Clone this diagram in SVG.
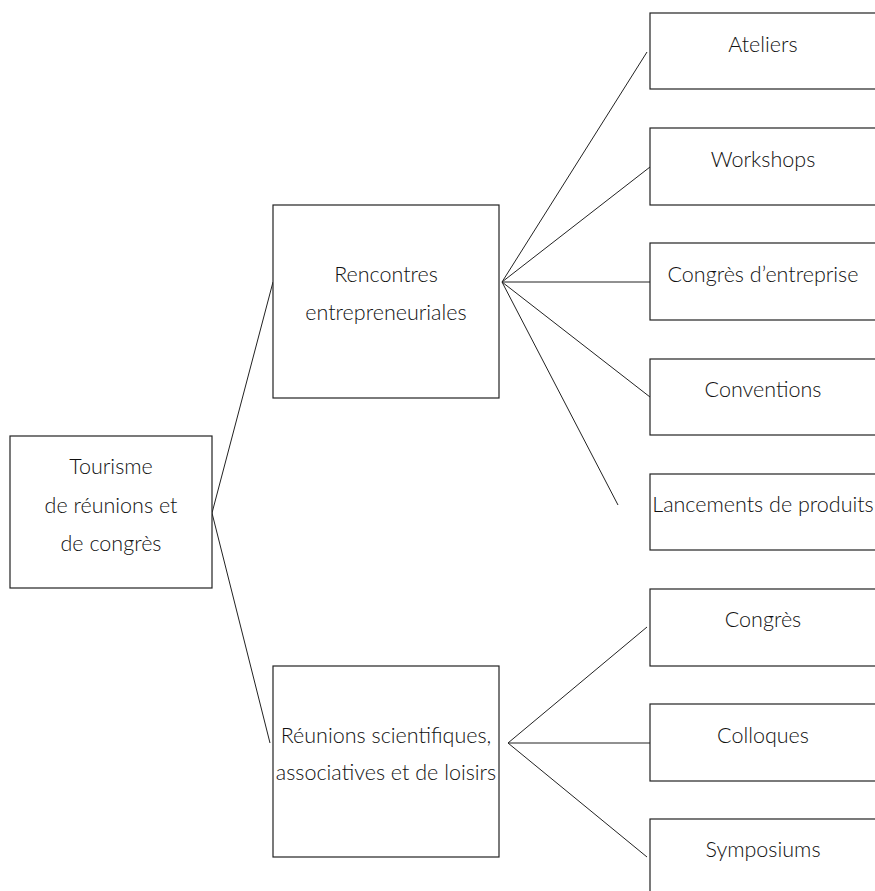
<svg xmlns="http://www.w3.org/2000/svg" width="875" height="891" viewBox="0 0 875 891">
<style>
rect{fill:#fff;stroke:#222;stroke-width:1.2}
.c line{stroke:#222;stroke-width:1}
text{font-family:Lato,"Liberation Sans",sans-serif;font-weight:300;font-size:21.5px;fill:#111;text-anchor:middle}
</style>
<rect x="0" y="0" width="875" height="891" style="stroke:none"/>
<g class="c" id="connectors">
<line x1="212" y1="513" x2="273" y2="282"/>
<line x1="212" y1="513" x2="270" y2="743"/>
<line x1="502" y1="282" x2="647" y2="52"/>
<line x1="502" y1="282" x2="650" y2="167"/>
<line x1="502" y1="282" x2="650" y2="282"/>
<line x1="502" y1="282" x2="650" y2="397"/>
<line x1="502" y1="282" x2="618" y2="505"/>
<line x1="508" y1="743" x2="647" y2="627"/>
<line x1="508" y1="743" x2="650" y2="743"/>
<line x1="508" y1="743" x2="647" y2="857"/>
</g>
<g id="root"><rect x="10" y="436" width="202" height="152"/><text x="111" y="474">Tourisme</text><text x="111" y="513">de réunions et</text><text x="111" y="551">de congrès</text></g>
<g id="rencontres"><rect x="273" y="205" width="226" height="193"/><text x="386" y="282">Rencontres</text><text x="386" y="320">entrepreneuriales</text></g>
<g id="reunions"><rect x="273" y="666" width="226" height="191"/><text x="386" y="743">Réunions scientifiques,</text><text x="386" y="780">associatives et de loisirs</text></g>
<g id="ateliers"><rect x="650" y="13" width="226" height="76"/><text x="763" y="52">Ateliers</text></g>
<g id="workshops"><rect x="650" y="128" width="226" height="77"/><text x="763" y="167">Workshops</text></g>
<g id="congres-entreprise"><rect x="650" y="243" width="226" height="77"/><text x="763" y="282">Congrès d’entreprise</text></g>
<g id="conventions"><rect x="650" y="359" width="226" height="76"/><text x="763" y="397">Conventions</text></g>
<g id="lancements"><rect x="650" y="474" width="226" height="76"/><text x="763" y="512">Lancements de produits</text></g>
<g id="congres"><rect x="650" y="589" width="226" height="77"/><text x="763" y="627">Congrès</text></g>
<g id="colloques"><rect x="650" y="704" width="226" height="77"/><text x="763" y="743">Colloques</text></g>
<g id="symposiums"><rect x="650" y="819" width="226" height="80"/><text x="763" y="857">Symposiums</text></g>
</svg>
